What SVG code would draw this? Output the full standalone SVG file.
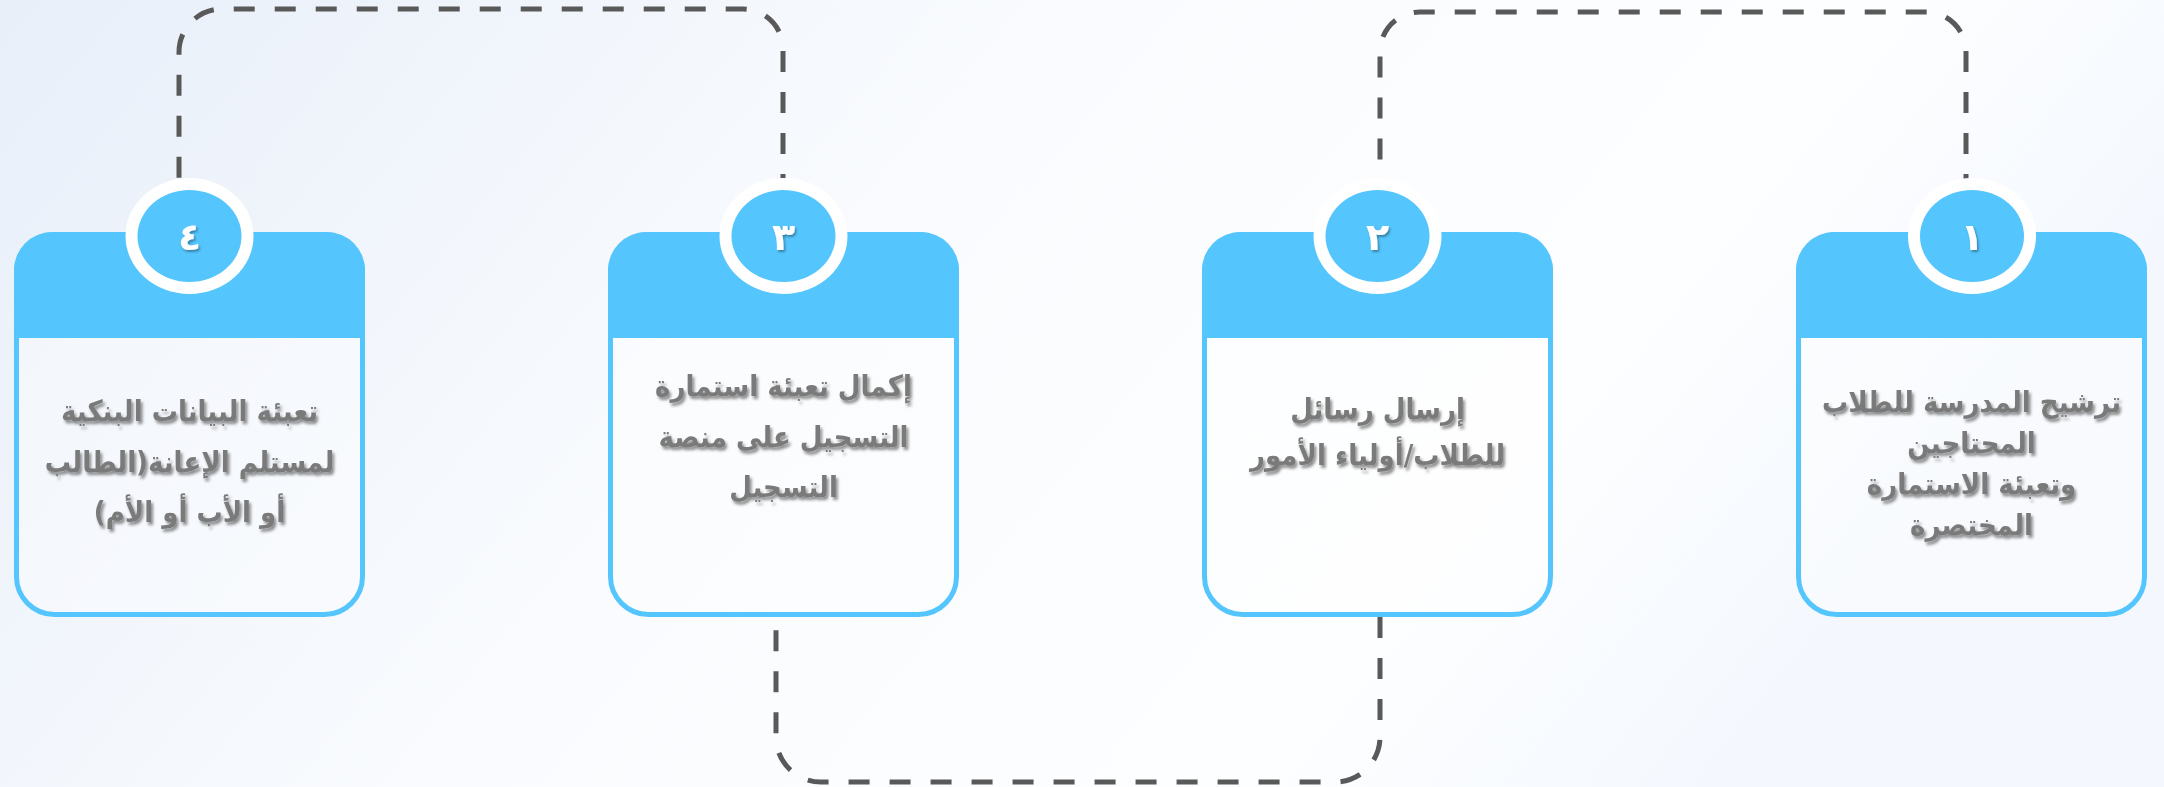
<svg xmlns="http://www.w3.org/2000/svg" width="2164" height="787" viewBox="0 0 2164 787">
  <defs>
    <linearGradient id="bg" x1="0" y1="0" x2="1" y2="0.3">
      <stop offset="0" stop-color="#e8eff9"/>
      <stop offset="0.45" stop-color="#f9fbfe"/>
      <stop offset="0.8" stop-color="#fdfeff"/>
      <stop offset="1" stop-color="#f4f8fe"/>
    </linearGradient>
    <filter id="tshadow" x="-10%" y="-30%" width="120%" height="160%">
      <feDropShadow dx="2" dy="3" stdDeviation="1.6" flood-color="#000" flood-opacity="0.45"/>
    </filter>
    <filter id="dshadow" x="-30%" y="-30%" width="160%" height="160%">
      <feDropShadow dx="1.5" dy="2" stdDeviation="1" flood-color="#000" flood-opacity="0.35"/>
    </filter>
    <style>
      .body { fill: #ffffff; fill-opacity: 0.35; stroke: #55c5fe; stroke-width: 5; }
      .head { fill: #55c5fe; }
      .ring { fill: #ffffff; }
      .disc { fill: #55c5fe; }
      .num { font-family: "DejaVu Sans", sans-serif; font-weight: bold; font-size: 38px; fill: #ffffff; text-anchor: middle; filter: url(#dshadow); }
      .lbl { font-family: "DejaVu Sans Condensed", "DejaVu Sans", sans-serif; font-stretch: condensed; font-weight: bold; font-size: 29px; fill: #7a7a7a; text-anchor: middle; direction: rtl; filter: url(#tshadow); }
      .conn { fill: none; stroke: #595959; stroke-width: 5; stroke-dasharray: 21 20; }
    </style>
  </defs>
  <rect x="0" y="0" width="2164" height="787" fill="url(#bg)"/>

  <g id="connectors">
    <path class="conn" d="M1966,236 V52 A40,40 0 0 0 1926,12 H1420 A40,40 0 0 0 1380,52 V236"/>
    <path class="conn" d="M1380,617 V737 A45,45 0 0 1 1335,782 H821 A45,45 0 0 1 776,737 V617"/>
    <path class="conn" d="M783,236 V49 A40,40 0 0 0 743,9 H222 A43,43 0 0 0 179,52 V236"/>
  </g>

  <g id="node1">
    <rect class="body" x="1798.5" y="234.5" width="346" height="380" rx="38"/>
    <path class="head" d="M1796,338 V270 A38,38 0 0 1 1834,232 H2109 A38,38 0 0 1 2147,270 V338 Z"/>
    <ellipse class="ring" cx="1972" cy="236" rx="64" ry="58"/>
    <ellipse class="disc" cx="1972" cy="236" rx="52" ry="46"/>
    <text class="num" x="1972" y="250">١</text>
    <text class="lbl" x="1971.5" y="412">ترشيح المدرسة للطلاب</text>
    <text class="lbl" x="1971.5" y="453">المحتاجين</text>
    <text class="lbl" x="1971.5" y="494">وتعبئة الاستمارة</text>
    <text class="lbl" x="1971.5" y="535">المختصرة</text>
  </g>

  <g id="node2">
    <rect class="body" x="1204.5" y="234.5" width="346" height="380" rx="38"/>
    <path class="head" d="M1202,338 V270 A38,38 0 0 1 1240,232 H1515 A38,38 0 0 1 1553,270 V338 Z"/>
    <ellipse class="ring" cx="1377.5" cy="236" rx="64" ry="58"/>
    <ellipse class="disc" cx="1377.5" cy="236" rx="52" ry="46"/>
    <text class="num" x="1377.5" y="250">٢</text>
    <text class="lbl" x="1377.5" y="419">إرسال رسائل</text>
    <text class="lbl" x="1377.5" y="465">للطلاب/أولياء الأمور</text>
  </g>

  <g id="node3">
    <rect class="body" x="610.5" y="234.5" width="346" height="380" rx="38"/>
    <path class="head" d="M608,338 V270 A38,38 0 0 1 646,232 H921 A38,38 0 0 1 959,270 V338 Z"/>
    <ellipse class="ring" cx="783.5" cy="236" rx="64" ry="58"/>
    <ellipse class="disc" cx="783.5" cy="236" rx="52" ry="46"/>
    <text class="num" x="783.5" y="250">٣</text>
    <text class="lbl" x="783.5" y="396">إكمال تعبئة استمارة</text>
    <text class="lbl" x="783.5" y="447">التسجيل على منصة</text>
    <text class="lbl" x="783.5" y="497">التسجيل</text>
  </g>

  <g id="node4">
    <rect class="body" x="16.5" y="234.5" width="346" height="380" rx="38"/>
    <path class="head" d="M14,338 V270 A38,38 0 0 1 52,232 H327 A38,38 0 0 1 365,270 V338 Z"/>
    <ellipse class="ring" cx="189.5" cy="236" rx="64" ry="58"/>
    <ellipse class="disc" cx="189.5" cy="236" rx="52" ry="46"/>
    <text class="num" x="189.5" y="250">٤</text>
    <text class="lbl" x="189.5" y="421">تعبئة البيانات البنكية</text>
    <text class="lbl" x="189.5" y="472">لمستلم الإعانة(الطالب</text>
    <text class="lbl" x="189.5" y="522">أو الأب أو الأم)</text>
  </g>
</svg>
